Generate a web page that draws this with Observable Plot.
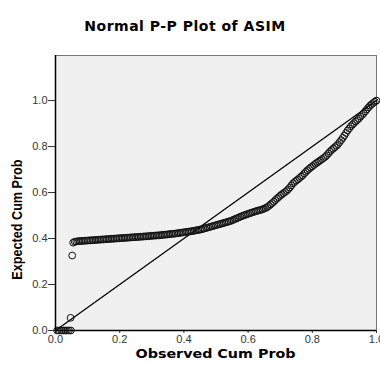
<!DOCTYPE html>
<html>
<head>
<meta charset="utf-8">
<script src="https://cdn.jsdelivr.net/npm/d3@7"></script>
<script src="https://cdn.jsdelivr.net/npm/@observablehq/plot@0.6"></script>
<style>
  html, body { margin: 0; padding: 0; background: #fff; width: 380px; height: 365px; overflow: hidden; }
  #wrap { position: relative; width: 380px; height: 365px; }
  #title { position: absolute; left: 0; width: 370px; top: 18px; text-align: center; letter-spacing: 0.5px;
           font: bold 14px "DejaVu Sans", sans-serif; color: #000; }
  #chart { position: absolute; left: 0; top: 40px; }
</style>
</head>
<body>
<div id="wrap">
  <div id="title"></div>
  <div id="chart"></div>
</div>
<script>
const titleText = "Normal P-P Plot of ASIM";
const xLabel = "Observed Cum Prob";
const yLabel = "Expected Cum Prob";
const tickValues = [0, 0.2, 0.4, 0.6, 0.8, 1.0];

// Observed cumulative probabilities
const observed = [
  0.005, 0.012, 0.018, 0.024, 0.030, 0.036, 0.042, 0.048, 0.047, 0.052,
  0.055, 0.060, 0.065, 0.070, 0.075, 0.080, 0.085, 0.090, 0.095, 0.100,
  0.105, 0.110, 0.115, 0.120, 0.125, 0.130, 0.135, 0.140, 0.145, 0.150,
  0.155, 0.160, 0.165, 0.170, 0.175, 0.180, 0.185, 0.190, 0.195, 0.200,
  0.205, 0.210, 0.215, 0.220, 0.225, 0.230, 0.235, 0.240, 0.245, 0.250,
  0.255, 0.260, 0.265, 0.270, 0.275, 0.280, 0.285, 0.290, 0.295, 0.300,
  0.305, 0.310, 0.315, 0.320, 0.325, 0.330, 0.335, 0.340, 0.345, 0.350,
  0.355, 0.360, 0.365, 0.370, 0.375, 0.380, 0.385, 0.390, 0.395, 0.400,
  0.405, 0.410, 0.415, 0.420, 0.425, 0.430, 0.435, 0.440, 0.445, 0.450,
  0.455, 0.460, 0.465, 0.470, 0.475, 0.480, 0.485, 0.490, 0.495, 0.500,
  0.505, 0.510, 0.515, 0.520, 0.525, 0.530, 0.535, 0.540, 0.545, 0.550,
  0.555, 0.560, 0.565, 0.570, 0.575, 0.580, 0.585, 0.590, 0.595, 0.600,
  0.605, 0.610, 0.615, 0.620, 0.625, 0.630, 0.635, 0.640, 0.645, 0.650,
  0.655, 0.660, 0.665, 0.670, 0.675, 0.680, 0.685, 0.690, 0.695, 0.700,
  0.705, 0.710, 0.715, 0.720, 0.725, 0.730, 0.735, 0.740, 0.745, 0.750,
  0.755, 0.760, 0.765, 0.770, 0.775, 0.780, 0.785, 0.790, 0.795, 0.800,
  0.805, 0.810, 0.815, 0.820, 0.825, 0.830, 0.835, 0.840, 0.845, 0.850,
  0.855, 0.860, 0.865, 0.870, 0.875, 0.880, 0.885, 0.890, 0.895, 0.900,
  0.905, 0.910, 0.915, 0.920, 0.925, 0.930, 0.935, 0.940, 0.945, 0.950,
  0.955, 0.960, 0.965, 0.970, 0.975, 0.980, 0.985, 0.990, 0.995, 1.000
];
// Expected cumulative probabilities
const expected = [
  0.000, 0.000, 0.000, 0.000, 0.000, 0.000, 0.000, 0.000, 0.055, 0.326,
  0.382, 0.386, 0.387, 0.388, 0.389, 0.389, 0.390, 0.390, 0.391, 0.391,
  0.392, 0.392, 0.393, 0.393, 0.394, 0.394, 0.395, 0.395, 0.396, 0.396,
  0.397, 0.397, 0.398, 0.398, 0.399, 0.399, 0.400, 0.400, 0.401, 0.401,
  0.402, 0.402, 0.403, 0.403, 0.404, 0.404, 0.405, 0.405, 0.406, 0.406,
  0.407, 0.407, 0.408, 0.408, 0.409, 0.409, 0.410, 0.410, 0.411, 0.412,
  0.412, 0.413, 0.413, 0.414, 0.414, 0.415, 0.416, 0.417, 0.417, 0.418,
  0.419, 0.420, 0.420, 0.421, 0.422, 0.423, 0.424, 0.425, 0.426, 0.427,
  0.428, 0.429, 0.430, 0.431, 0.432, 0.433, 0.435, 0.436, 0.437, 0.439,
  0.440, 0.442, 0.444, 0.446, 0.448, 0.450, 0.452, 0.454, 0.456, 0.458,
  0.460, 0.462, 0.464, 0.466, 0.468, 0.470, 0.472, 0.474, 0.476, 0.479,
  0.482, 0.485, 0.488, 0.491, 0.494, 0.497, 0.500, 0.502, 0.505, 0.507,
  0.510, 0.512, 0.514, 0.517, 0.519, 0.521, 0.523, 0.525, 0.527, 0.530,
  0.533, 0.537, 0.542, 0.548, 0.554, 0.560, 0.567, 0.574, 0.580, 0.586,
  0.592, 0.597, 0.602, 0.607, 0.614, 0.622, 0.631, 0.640, 0.646, 0.652,
  0.657, 0.663, 0.669, 0.675, 0.683, 0.690, 0.697, 0.703, 0.709, 0.714,
  0.720, 0.725, 0.730, 0.735, 0.740, 0.745, 0.750, 0.755, 0.762, 0.770,
  0.778, 0.785, 0.791, 0.797, 0.803, 0.810, 0.819, 0.828, 0.838, 0.848,
  0.859, 0.870, 0.879, 0.888, 0.895, 0.902, 0.909, 0.915, 0.922, 0.930,
  0.937, 0.945, 0.953, 0.962, 0.970, 0.978, 0.984, 0.990, 0.995, 1.000
];
const refLine = [0, 1];

const points = observed.map((x, i) => ({x, y: expected[i]}));
const diag = refLine.map(v => ({x: v, y: v}));

const chart = Plot.plot({
  width: 380,
  height: 325,
  marginLeft: 55,
  marginRight: 4,
  marginTop: 15,
  marginBottom: 35,
  style: {background: "transparent", fontFamily: "'Liberation Sans', Arial, sans-serif"},
  x: {domain: [0, 1]},
  y: {domain: [0, 1.196]},
  marks: [
    Plot.frame({fill: "#f0f0f0", stroke: "#777", strokeWidth: 1}),
    Plot.axisX({ticks: tickValues, tickFormat: d3.format(".1f"), tickSize: 3, tickPadding: 2,
                fontSize: 11, color: "#333", label: null}),
    Plot.axisY({ticks: tickValues, tickFormat: d3.format(".1f"), tickSize: 7, tickPadding: 1,
                fontSize: 11, color: "#333", label: null}),
    Plot.ruleX([0], {stroke: "#000", strokeWidth: 1.5}),
    Plot.ruleY([0], {stroke: "#000", strokeWidth: 1.5}),
    Plot.line(diag, {x: "x", y: "y", stroke: "#000", strokeWidth: 1.3}),
    Plot.dot(points, {x: "x", y: "y", r: 3.4, stroke: "#111", strokeWidth: 1, fill: "none"})
  ]
});
document.getElementById("chart").appendChild(chart);
document.getElementById("title").textContent = titleText;

// axis titles, positioned through the chart's own scales
const sx = chart.scale("x"), sy = chart.scale("y");
const svg = d3.select(chart);
svg.append("text")
  .attr("x", sx.apply(0.5)).attr("y", 314)
  .attr("text-anchor", "middle").attr("dominant-baseline", "middle")
  .attr("font-family", "'DejaVu Sans', sans-serif").attr("font-size", 12.5).attr("font-weight", "bold")
  .attr("textLength", 160).attr("lengthAdjust", "spacingAndGlyphs").attr("fill", "#000")
  .text(xLabel);
svg.append("text")
  .attr("transform", `translate(18,${sy.apply(0.48)}) rotate(-90)`)
  .attr("text-anchor", "middle").attr("dominant-baseline", "middle")
  .attr("font-family", "'Liberation Sans', sans-serif").attr("font-size", 14).attr("font-weight", "bold")
  .attr("textLength", 120).attr("lengthAdjust", "spacingAndGlyphs").attr("fill", "#000")
  .text(yLabel);
</script>
</body>
</html>
